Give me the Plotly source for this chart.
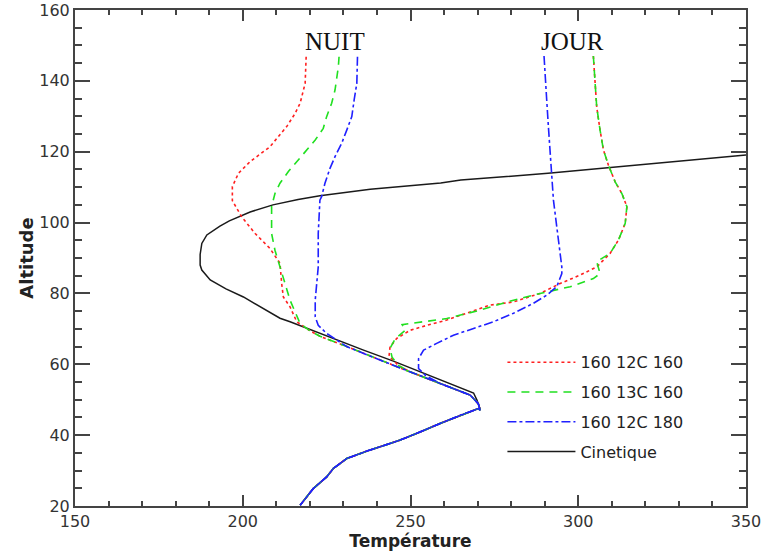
import plotly.graph_objects as go

# ---------------- data (Temperature K, Altitude km) ----------------
kin_T = [350.0, 318.5, 291.0, 265.0, 259.0, 238.0, 223.0, 216.5, 209.0, 202.2, 196.0, 193.2,
         189.3, 187.8, 187.3, 187.3, 187.8, 190.3, 195.0, 200.2, 207.2, 211.1, 214.1, 227.0,
         236.0, 244.9, 252.0, 258.8, 264.0, 268.8, 269.8, 270.8]
kin_alt = [119.1, 116.4, 113.9, 112.0, 111.2, 109.4, 107.6, 106.5, 105.0, 103.0, 100.5, 99.0,
           96.5, 94.1, 91.0, 88.0, 86.6, 83.8, 81.3, 79.0, 75.3, 73.0, 72.0, 67.2,
           64.0, 60.9, 58.2, 55.7, 53.7, 51.9, 49.9, 47.2]

# common lower profile (all curves)
low_T = [270.2, 264.8, 258.8, 252.9, 246.9, 240.9, 237.0, 231.0, 227.0, 225.0, 221.0, 217.1]
low_alt = [47.5, 45.6, 43.3, 40.9, 38.6, 36.7, 35.5, 33.4, 30.6, 28.2, 24.9, 20.2]

# merging part of coloured curves (between ~70 km and ~47 km)
merge_T = [220.0, 223.0, 231.0, 240.9, 250.0, 258.8, 267.8, 270.2, 270.8]
merge_alt = [69.5, 67.9, 65.0, 61.2, 57.8, 54.6, 51.3, 48.9, 47.0]

# NUIT
nuit_12c160_T = [218.9, 218.6, 217.1, 215.6, 213.1, 208.1, 202.2, 198.7, 196.9, 196.9, 199.7,
                 203.7, 208.1, 211.1, 211.6, 212.1, 214.1, 216.1]
nuit_12c160_alt = [146.8, 139.3, 133.7, 130.8, 127.1, 121.4, 117.2, 113.9, 110.1, 106.2, 101.6,
                   96.9, 92.7, 88.5, 82.8, 79.0, 76.2, 72.0]
nuit_13c160_T = [228.7, 228.5, 227.5, 226.5, 225.0, 224.0, 221.6, 219.1, 216.1, 213.6, 211.1,
                 209.6, 208.6, 208.6, 209.6, 211.1, 212.6, 214.1, 215.6, 217.1]
nuit_13c160_alt = [146.8, 144.0, 137.4, 133.7, 129.9, 126.6, 123.3, 120.5, 117.2, 114.4, 111.1,
                   108.2, 104.5, 96.9, 92.2, 87.5, 82.8, 78.1, 74.8, 71.5]
nuit_12c180_T = [234.2, 234.0, 233.2, 232.5, 231.0, 229.5, 227.5, 226.0, 224.5, 223.5, 223.0,
                 222.5, 222.5, 222.0, 221.6, 221.6, 222.5, 225.0]
nuit_12c180_alt = [146.8, 139.3, 134.6, 129.9, 126.1, 122.4, 118.6, 115.3, 111.1, 107.3, 106.3,
                   96.9, 87.5, 81.9, 78.1, 73.4, 71.0, 68.7]

# JOUR
jour_12c160_T = [304.5, 305.0, 305.5, 306.5, 307.5, 309.0, 311.0, 313.0, 314.5, 314.0, 312.0,
                 309.5, 305.5, 300.6, 294.6, 288.6, 280.7, 273.7, 266.8, 260.8, 254.9, 249.9,
                 245.9, 243.9, 243.6, 246.5]
jour_12c160_alt = [147.0, 139.3, 132.7, 126.1, 120.5, 116.2, 111.5, 108.2, 104.5, 99.8, 95.1,
                   91.3, 87.5, 85.2, 82.8, 80.0, 77.6, 76.7, 74.4, 72.5, 71.0, 69.6,
                   67.3, 64.9, 62.3, 59.6]
jour_13c160_T = [304.5, 305.0, 305.5, 306.5, 307.5, 309.0, 311.0, 313.0, 314.5, 314.0, 312.0,
                 309.5, 305.5, 306.5, 304.5, 297.6, 288.6, 280.7, 270.8, 260.8, 253.9, 247.5,
                 248.5, 245.5, 243.9, 244.5, 246.5]
jour_13c160_alt = [147.0, 139.3, 132.7, 126.1, 120.5, 116.2, 111.5, 108.2, 104.5, 99.8, 95.1,
                   91.3, 89.0, 85.6, 84.2, 81.9, 80.0, 78.1, 75.3, 72.9, 72.0, 71.2,
                   69.6, 67.3, 64.5, 62.0, 59.6]
jour_12c180_T = [289.8, 290.1, 290.6, 291.1, 291.6, 292.1, 292.6, 293.6, 294.4, 295.1, 295.1,
                 294.6, 293.6, 290.6, 286.6, 280.7, 274.7, 268.8, 262.8, 257.8, 253.9, 252.4,
                 252.4, 254.5]
jour_12c180_alt = [147.0, 143.1, 134.6, 127.1, 120.5, 113.9, 106.4, 98.8, 93.2, 87.5, 85.6,
                   84.2, 81.9, 79.5, 77.2, 74.4, 72.0, 70.1, 68.2, 65.9, 64.0, 61.6,
                   58.8, 56.8]

labels = ["160 12C 160", "160 13C 160", "160 12C 180", "Cinetique"]
x_ticks = [150, 200, 250, 300, 350]
y_ticks = [20, 40, 60, 80, 100, 120, 140, 160]

# ---------------- figure ----------------
fig = go.Figure()

fig.add_trace(go.Scatter(x=kin_T + low_T, y=kin_alt + low_alt, mode="lines",
                         line=dict(color="#1a1a1a", width=1.5), name=labels[3],
                         legendgroup="g4", legendrank=4))

styles = [dict(color="#ff2020", width=1.6, dash="dot"),
          dict(color="#20e020", width=1.6, dash="8px,6px"),
          dict(color="#2020ff", width=1.6, dash="dashdot")]

night = [(nuit_12c160_T, nuit_12c160_alt, 0),
         (nuit_13c160_T, nuit_13c160_alt, 0),
         (nuit_12c180_T, nuit_12c180_alt, 2)]
day = [(jour_12c160_T, jour_12c160_alt, 4),
       (jour_13c160_T, jour_13c160_alt, 4),
       (jour_12c180_T, jour_12c180_alt, 5)]

for i in range(3):
    nT, nA, ns = night[i]
    dT, dA, ds = day[i]
    fig.add_trace(go.Scatter(x=nT + merge_T[ns:] + low_T, y=nA + merge_alt[ns:] + low_alt,
                             mode="lines", line=styles[i], name=labels[i],
                             legendgroup="g%d" % (i + 1), legendrank=i + 1))
    fig.add_trace(go.Scatter(x=dT + merge_T[ds:] + low_T, y=dA + merge_alt[ds:] + low_alt,
                             mode="lines", line=styles[i], name=labels[i], showlegend=False,
                             legendgroup="g%d" % (i + 1)))

fig.add_annotation(x=227.5, y=151, text="NUIT", showarrow=False, xref="x", yref="y",
                   font=dict(family="Liberation Serif", size=25, color="#111"))
fig.add_annotation(x=298.2, y=151, text="JOUR", showarrow=False, xref="x", yref="y",
                   font=dict(family="Liberation Serif", size=25, color="#111"))

axis_common = dict(showgrid=False, zeroline=False, showline=True, linecolor="#444",
                   linewidth=2, mirror="ticks", ticks="inside", tickcolor="#444",
                   automargin=False,
                   tickfont=dict(family="DejaVu Sans", size=16, color="#333"))

fig.update_xaxes(range=[150, 350], tickvals=x_ticks, ticklen=11, tickwidth=1.5,
                 minor=dict(dtick=10, ticks="inside", ticklen=5, tickcolor="#444", tickwidth=1.5),
                 title=dict(text="Température", standoff=0,
                            font=dict(family="DejaVu Sans", size=17, color="#222", weight="bold")),
                 **axis_common)
fig.update_yaxes(range=[20, 160], tickvals=y_ticks, ticklen=15, tickwidth=1.5,
                 minor=dict(dtick=5, ticks="inside", ticklen=7, tickcolor="#444", tickwidth=1.5),
                 title=dict(text="Altitude", standoff=1,
                            font=dict(family="DejaVu Sans", size=18, color="#222", weight="bold")),
                 **axis_common)

fig.update_layout(
    width=764, height=551,
    margin=dict(l=75, r=18, t=10, b=45),
    paper_bgcolor="white", plot_bgcolor="white",
    showlegend=True,
    legend=dict(x=0.637, y=0.324, xanchor="left", yanchor="top", bgcolor="rgba(0,0,0,0)",
                traceorder="grouped", tracegroupgap=6, itemwidth=68,
                font=dict(family="DejaVu Sans", size=16, color="#222")),
)

# remove the default page-body margin so the figure sits at the window's corner
fig.write_html("out.html", config={"displayModeBar": False},
               post_script="document.body.style.margin='0px';document.body.style.overflow='hidden';")
